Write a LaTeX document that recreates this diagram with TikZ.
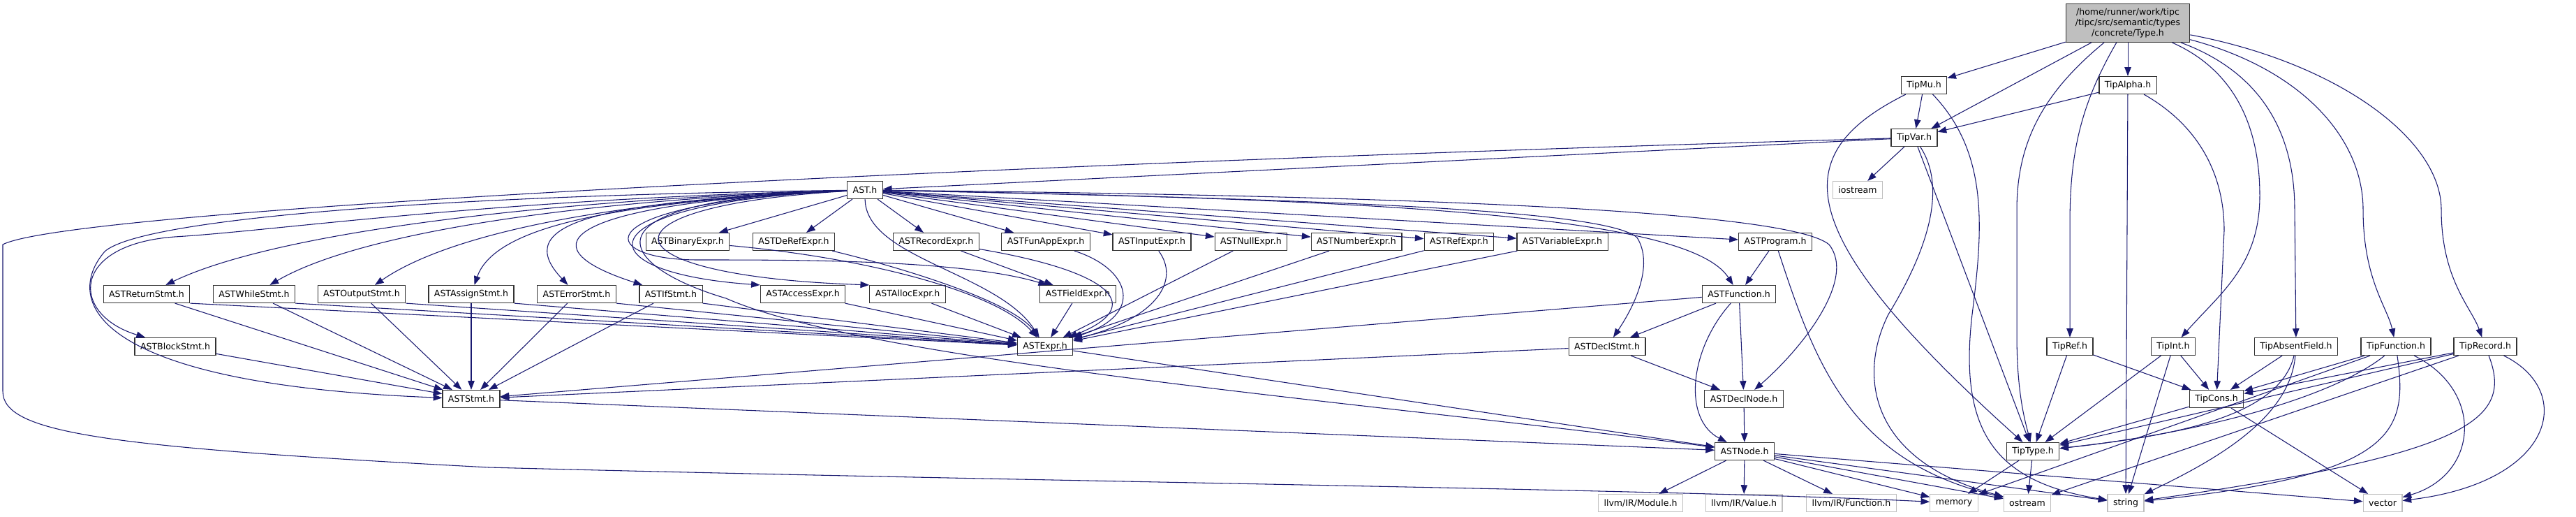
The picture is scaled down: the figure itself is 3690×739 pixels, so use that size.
\documentclass[tikz,border=0pt]{standalone}
\usepackage{fontspec}
\newfontfamily\doxfont{DejaVu Sans}
\usepackage{xcolor}
\usepackage{tikz}
\usetikzlibrary{arrows.meta}
\definecolor{edgeblue}{HTML}{191970}
\definecolor{rootgrey}{HTML}{BFBFBF}

\begin{document}
\begin{tikzpicture}[
  x=0.75pt, y=-0.75pt,
  file/.style={draw=black!80, fill=white, line width=0.9pt, minimum height=18.75pt,
    inner xsep=6pt, inner ysep=0pt, font=\doxfont\fontsize{9.4}{11.3}\selectfont},
  sysfile/.style={file, draw=black!25},
  root/.style={file, fill=rootgrey, align=center, minimum height=41pt, minimum width=133pt, inner xsep=3pt},
  dep/.style={draw=edgeblue, line width=0.8pt, -{Triangle[length=9.5pt,width=7pt]}}
]
\useasboundingbox (0,0) rectangle (3690,739);

\node[root] (typeh) at (3048,33) {/home/runner/work/tipc\\/tipc/src/semantic/types\\/concrete/Type.h};
\node[file] (tipmu) at (2756,122) {TipMu.h};
\node[file] (tipalpha) at (3048,122) {TipAlpha.h};
\node[file] (tipvar) at (2742,197) {TipVar.h};
\node[sysfile] (iostream) at (2661,272) {iostream};
\node[file] (ast) at (1239,272) {AST.h};

\node[file] (binexpr) at (985,346) {ASTBinaryExpr.h};
\node[file] (derefexpr) at (1137,346) {ASTDeRefExpr.h};
\node[file] (recordexpr) at (1341,346) {ASTRecordExpr.h};
\node[file] (funappexpr) at (1498,346) {ASTFunAppExpr.h};
\node[file] (inputexpr) at (1650,346) {ASTInputExpr.h};
\node[file] (nullexpr) at (1792,346) {ASTNullExpr.h};
\node[file] (numberexpr) at (1943,346) {ASTNumberExpr.h};
\node[file] (refexpr) at (2090,346) {ASTRefExpr.h};
\node[file] (varexpr) at (2238,346) {ASTVariableExpr.h};
\node[file] (program) at (2543,346) {ASTProgram.h};

\node[file] (returnstmt) at (210,421) {ASTReturnStmt.h};
\node[file] (whilestmt) at (364,421) {ASTWhileStmt.h};
\node[file] (outputstmt) at (518,421) {ASTOutputStmt.h};
\node[file] (assignstmt) at (675,421) {ASTAssignStmt.h};
\node[file] (errorstmt) at (826,421) {ASTErrorStmt.h};
\node[file] (ifstmt) at (961,421) {ASTIfStmt.h};
\node[file] (accessexpr) at (1150,421) {ASTAccessExpr.h};
\node[file] (allocexpr) at (1300,421) {ASTAllocExpr.h};
\node[file] (fieldexpr) at (1544,421) {ASTFieldExpr.h};
\node[file] (function) at (2491,421) {ASTFunction.h};

\node[file] (blockstmt) at (251,496) {ASTBlockStmt.h};
\node[file] (expr) at (1497,496) {ASTExpr.h};
\node[file] (declstmt) at (2302,496) {ASTDeclStmt.h};
\node[file] (tipref) at (2965,496) {TipRef.h};
\node[file] (tipint) at (3113,496) {TipInt.h};
\node[file] (tipabsent) at (3289,496) {TipAbsentField.h};
\node[file] (tipfunction) at (3432,496) {TipFunction.h};
\node[file] (tiprecord) at (3560,496) {TipRecord.h};

\node[file] (stmt) at (675,571) {ASTStmt.h};
\node[file] (declnode) at (2498,571) {ASTDeclNode.h};
\node[file] (tipcons) at (3175,571) {TipCons.h};

\node[file] (node) at (2499,646) {ASTNode.h};
\node[file] (tiptype) at (2912,646) {TipType.h};

\node[sysfile] (module) at (2350,720) {llvm/IR/Module.h};
\node[sysfile] (value) at (2498,720) {llvm/IR/Value.h};
\node[sysfile] (irfunction) at (2652,720) {llvm/IR/Function.h};
\node[sysfile] (memory) at (2799,720) {memory};
\node[sysfile] (ostream) at (2904,720) {ostream};
\node[sysfile] (string) at (3045,720) {string};
\node[sysfile] (vector) at (3413,720) {vector};

\draw[dep] (typeh) -- (tipmu);
\draw[dep] (typeh) -- (tipvar);
\draw[dep] (typeh) -- (tipalpha);
\draw[dep] (typeh) .. controls (2930,130) and (2889,200) .. (2889,300) -- (2889,480) .. controls (2889,560) and (2900,600) .. (tiptype);
\draw[dep] (typeh) .. controls (2980,150) and (2965,220) .. (2965,320) -- (tipref);
\draw[dep] (typeh) .. controls (3200,100) and (3237,180) .. (3237,280) .. controls (3237,380) and (3180,420) .. (tipint);
\draw[dep] (typeh) .. controls (3230,100) and (3287,180) .. (3287,300) -- (tipabsent);
\draw[dep] (typeh) .. controls (3300,100) and (3385,200) .. (3385,300) .. controls (3385,400) and (3420,440) .. (tipfunction);
\draw[dep] (typeh) .. controls (3350,90) and (3497,200) .. (3497,300) .. controls (3497,400) and (3540,440) .. (tiprecord);

\draw[dep] (tipmu) -- (tipvar);
\draw[dep] (tipmu) .. controls (2560,220) and (2560,330) .. (tiptype);
\draw[dep] (tipmu) .. controls (2850,220) and (2840,330) .. (2825,450) .. controls (2805,620) and (2860,690) .. (string);

\draw[dep] (tipalpha) -- (tipvar);
\draw[dep] (tipalpha) -- (string);
\draw[dep] (tipalpha) .. controls (3150,180) and (3186,250) .. (3186,330) -- (tipcons);

\draw[dep] (tipvar) -- (ast);
\draw[dep] (tipvar) -- (iostream);
\draw[dep] (tipvar) -- (tiptype);
\draw[dep] (tipvar) .. controls (2790,270) and (2760,360) .. (2705,450) .. controls (2660,540) and (2680,660) .. (ostream);
\draw[dep] (tipvar) .. controls (1400,235) and (100,300) .. (4,350) -- (4,560) .. controls (4,620) and (150,640) .. (700,669) .. controls (1500,690) and (2400,700) .. (memory);

\draw[dep] (tipref) -- (tiptype);
\draw[dep] (tipref) -- (tipcons);
\draw[dep] (tipint) -- (tiptype);
\draw[dep] (tipint) -- (tipcons);
\draw[dep] (tipint) -- (string);
\draw[dep] (tipabsent) -- (tipcons);
\draw[dep] (tipabsent) .. controls (3265,600) and (3100,625) .. (tiptype);
\draw[dep] (tipabsent) .. controls (3280,600) and (3170,660) .. (string);
\draw[dep] (tipfunction) -- (tipcons);
\draw[dep] (tipfunction) .. controls (3340,570) and (3150,620) .. (tiptype);
\draw[dep] (tipfunction) -- (memory);
\draw[dep] (tipfunction) .. controls (3450,620) and (3430,680) .. (string);
\draw[dep] (tipfunction) .. controls (3560,560) and (3550,680) .. (vector);
\draw[dep] (tiprecord) -- (tipcons);
\draw[dep] (tiprecord) -- (tiptype);
\draw[dep] (tiprecord) -- (ostream);
\draw[dep] (tiprecord) .. controls (3600,600) and (3540,650) .. (string);
\draw[dep] (tiprecord) .. controls (3690,560) and (3660,690) .. (vector);
\draw[dep] (tipcons) -- (tiptype);
\draw[dep] (tipcons) -- (vector);
\draw[dep] (tiptype) -- (memory);
\draw[dep] (tiptype) -- (ostream);

\foreach \tgt in {module,value,irfunction,memory,ostream,string,vector}
  \draw[dep] (node) -- (\tgt);
\draw[dep] (declnode) -- (node);
\draw[dep] (declstmt) -- (declnode);
\draw[dep] (declstmt) -- (stmt);
\draw[dep] (function) -- (declstmt);
\draw[dep] (function) -- (declnode);
\draw[dep] (function) .. controls (2420,500) and (2410,600) .. (node);
\draw[dep] (function) -- (stmt);
\draw[dep] (program) -- (function);
\draw[dep] (program) .. controls (2600,520) and (2650,660) .. (ostream);

\foreach \tgt in {binexpr,derefexpr,recordexpr,funappexpr,inputexpr,nullexpr,numberexpr,refexpr,varexpr,program}
  \draw[dep] (ast) -- (\tgt);
\draw[dep] (ast) .. controls (2000,285) and (2420,310) .. (function);
\draw[dep] (ast) .. controls (1900,285) and (2300,300) .. (2345,340) .. controls (2370,380) and (2340,440) .. (declstmt);
\draw[dep] (ast) .. controls (2000,280) and (2560,300) .. (2620,350) .. controls (2660,400) and (2580,500) .. (declnode);
\draw[dep] (ast) .. controls (1240,370) and (1430,390) .. (expr);
\draw[dep] (ast) .. controls (820,285) and (880,380) .. (1040,427) .. controls (1250,520) and (2000,580) .. (node);
\draw[dep] (ast) .. controls (800,285) and (400,330) .. (returnstmt);
\draw[dep] (ast) .. controls (850,285) and (520,330) .. (whilestmt);
\draw[dep] (ast) .. controls (900,285) and (650,330) .. (outputstmt);
\draw[dep] (ast) .. controls (900,288) and (710,320) .. (assignstmt);
\draw[dep] (ast) .. controls (850,288) and (730,320) .. (errorstmt);
\draw[dep] (ast) .. controls (820,290) and (740,350) .. (ifstmt);
\draw[dep] (ast) .. controls (830,290) and (830,390) .. (accessexpr.north west);
\draw[dep] (ast) .. controls (840,295) and (860,395) .. (allocexpr.north west);
\draw[dep] (ast) .. controls (830,290) and (850,372) .. (1000,372) .. controls (1150,372) and (1380,372) .. (fieldexpr);
\draw[dep] (ast) .. controls (700,285) and (400,330) .. (250,339) .. controls (100,350) and (100,450) .. (blockstmt);
\draw[dep] (ast) .. controls (600,280) and (200,315) .. (150,360) .. controls (90,430) and (130,550) .. (stmt);

\draw[dep] (binexpr) .. controls (1250,370) and (1430,420) .. (expr);
\draw[dep] (derefexpr) .. controls (1280,380) and (1450,430) .. (expr);
\draw[dep] (recordexpr) -- (fieldexpr);
\draw[dep] (recordexpr) .. controls (1600,390) and (1640,440) .. (expr);
\draw[dep] (funappexpr) .. controls (1620,385) and (1640,450) .. (expr);
\draw[dep] (inputexpr) .. controls (1690,400) and (1660,455) .. (expr);
\foreach \src in {nullexpr,numberexpr,refexpr,varexpr,fieldexpr,accessexpr,allocexpr}
  \draw[dep] (\src) -- (expr);
\foreach \src in {returnstmt,whilestmt,outputstmt,assignstmt,errorstmt,ifstmt}
  \draw[dep] (\src.south east) -- (expr);
\foreach \src in {returnstmt,whilestmt,outputstmt,assignstmt,errorstmt,ifstmt,blockstmt}
  \draw[dep] (\src) -- (stmt);
\draw[dep] (expr) -- (node);
\draw[dep] (stmt) -- (node);
\end{tikzpicture}
\end{document}
